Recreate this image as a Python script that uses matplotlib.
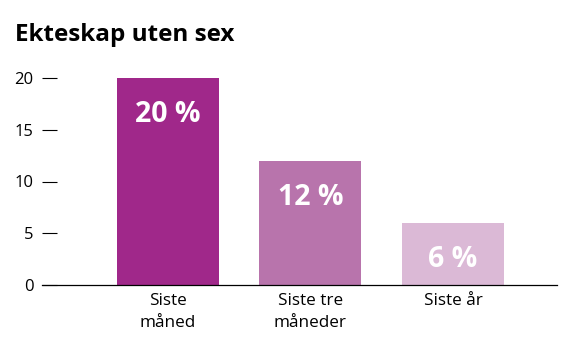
import matplotlib
matplotlib.use("Agg")
import matplotlib.pyplot as plt

categories = ["Siste\nmåned", "Siste tre\nmåneder", "Siste år"]
values = [20, 12, 6]
labels = ["20 %", "12 %", "6 %"]
colors = ["#A0288A", "#B874AC", "#DBB9D6"]
yticks = [0, 5, 10, 15, 20]

plt.rcParams['font.family'] = ['Open Sans', 'DejaVu Sans']

W, H = 579, 354
fig = plt.figure(figsize=(W / 100, H / 100), dpi=100)
ax = fig.add_axes([42 / W, 1 - 285 / H, (557 - 42) / W, (285 - 78) / H])

x = list(range(len(categories)))
bars = ax.bar(x, values, width=0.716, color=colors)
for xi, v, lab in zip(x, values, labels):
    ax.text(xi, v - 3.5, lab, ha='center', va='center', color='white',
            fontsize=20.5, fontweight='bold')

ax.set_xlim(-0.884, 2.73)
ax.set_ylim(0, 20)
ax.set_yticks(yticks)
ax.set_xticks(x)
ax.set_xticklabels(categories, fontsize=12.3, linespacing=1.5)
ax.tick_params(axis='y', direction='in', length=11, width=0.8, pad=6, labelsize=12)
ax.tick_params(axis='x', length=0, pad=6)
for s in ['top', 'right', 'left']:
    ax.spines[s].set_visible(False)
ax.spines['bottom'].set_linewidth(0.9)

fig.text(15 / W, 1 - 35 / H, "Ekteskap uten sex", fontsize=17.5, fontweight='bold',
         ha='left', va='center')

fig.savefig("out.png", dpi=100)
